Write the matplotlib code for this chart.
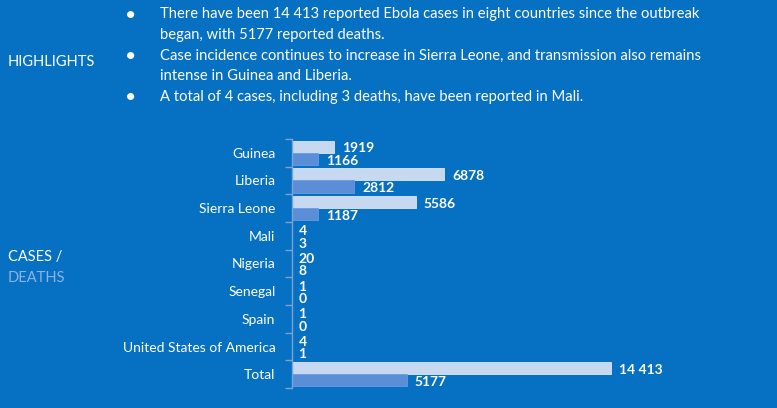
import matplotlib
matplotlib.use("Agg")
import matplotlib.pyplot as plt
import numpy as np

countries = ["Guinea", "Liberia", "Sierra Leone", "Mali", "Nigeria", "Senegal",
             "Spain", "United States of America", "Total"]
cases = [1919, 6878, 5586, 4, 20, 1, 1, 4, 14413]
deaths = [1166, 2812, 1187, 3, 8, 0, 0, 1, 5177]

highlights = [
    ["There have been 14 413 reported Ebola cases in eight countries since the outbreak",
     "began, with 5177 reported deaths."],
    ["Case incidence continues to increase in Sierra Leone, and transmission also remains",
     "intense in Guinea and Liberia."],
    ["A total of 4 cases, including 3 deaths, have been reported in Mali."],
]

BG = "#0670c2"
CASE_C = "#c6d9f1"
DEATH_C = "#5a8ed6"
DEATH_TXT = "#8db4e2"
AX_C = "#7fa3cf"
FONT = "Lato"

plt.rcParams['font.family'] = [FONT, 'DejaVu Sans']

W, H = 777, 408
fig = plt.figure(figsize=(W / 100, H / 100), dpi=100, facecolor=BG)

def fx(px):
    return px / W

def fy(py):
    return 1 - py / H

# Highlights text
fig.text(fx(8), fy(62), "HIGHLIGHTS", color="white", fontsize=10.5, va="center", ha="left")
y = 14
for item in highlights:
    fig.text(fx(131), fy(y + 1), "\u2022", color="white", fontsize=14, va="center", ha="center")
    for line in item:
        fig.text(fx(160), fy(y), line, color="white", fontsize=10.6, va="center", ha="left")
        y += 20.5
    y += 0.5

fig.text(fx(8), fy(257), "CASES /", color="white", fontsize=10.5, va="center", ha="left")
fig.text(fx(8), fy(278), "DEATHS", color=DEATH_TXT, fontsize=10.5, va="center", ha="left")

# Axes
left_px, right_px, top_px, bot_px = 292, 720, 139, 388
scale = (611 - 292) / 14413.0
ax = fig.add_axes([fx(left_px), fy(bot_px), fx(right_px - left_px), (bot_px - top_px) / H])
ax.set_facecolor(BG)
n = len(countries)
ypos = np.arange(n)
bh = 0.435
ax.barh(ypos - bh / 2, cases, height=bh, color=CASE_C, edgecolor="#dbe7f7", linewidth=0.6)
ax.barh(ypos + bh / 2, deaths, height=bh, color=DEATH_C, edgecolor="#6b9ade", linewidth=0.6)
ax.set_xlim(0, (right_px - left_px) / scale)
ax.set_ylim(n - 0.5, -0.5)

def fmt(v):
    if v >= 10000:
        return f"{v:,}".replace(",", " ")
    return str(v)

off = 8 / scale
for i in range(n):
    ax.text(cases[i] + off * (1 if cases[i] > 100 else 0.8), i - bh / 2 + 0.06, fmt(cases[i]),
            color="white", fontsize=10, fontweight="bold", va="center", ha="left")
    ax.text(deaths[i] + off * (1 if deaths[i] > 100 else 0.8), i + bh / 2 + 0.06, fmt(deaths[i]),
            color="white", fontsize=10, fontweight="bold", va="center", ha="left")

for s in ["top", "right", "bottom"]:
    ax.spines[s].set_visible(False)
ax.spines["left"].set_color(AX_C)
ax.spines["left"].set_linewidth(1)
ax.set_xticks([])
ax.set_yticks(ypos)
ax.set_yticklabels(countries, color="white", fontsize=10)
ax.tick_params(axis="y", which="major", length=0, pad=12)
ax.set_yticks(np.arange(-0.5, n, 1), minor=True)
ax.tick_params(axis="y", which="minor", length=5, color=AX_C, width=1)

fig.savefig("out.png", dpi=100, facecolor=BG)
